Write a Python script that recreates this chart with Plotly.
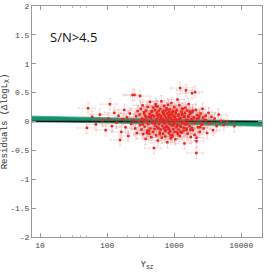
import plotly.graph_objects as go
import numpy as np

# Y_sz values and residuals
ysz = [
    52, 50, 60, 68, 78, 85, 95, 110, 104, 118, 128, 138, 156, 148, 163, 172, 180, 188, 198, 207,
    218, 228, 240, 248, 256, 262, 270, 278, 286, 295, 310,
    305, 312, 318, 325, 330, 338, 345, 350, 358, 362, 370, 375, 382, 390, 396, 402, 410, 415, 422, 430,
    436, 442, 450, 455, 462, 470, 476, 482, 490, 497, 500,
    505, 510, 518, 525, 530, 538, 545, 550, 558, 565, 572, 580, 586, 592, 600, 608, 615, 622, 630, 638,
    645, 652, 660, 668, 675, 682, 690, 698, 705, 712,
    720, 728, 736, 745, 752, 760, 768, 776, 785, 792, 800, 810, 818, 826, 835, 845, 852, 862, 870, 880,
    890, 900, 910, 920, 930, 940, 950, 962, 972, 985,
    995, 1005, 1018, 1030, 1042, 1055, 1068, 1080, 1092, 1105, 1120, 1135, 1150, 1165, 1180, 1195, 1210,
    1228, 1245, 1262, 1280, 1300, 1320, 1340, 1360, 1380, 1400, 1425, 1450, 1475,
    1500, 1510, 1530, 1560, 1590, 1620, 1650, 1690, 1730, 1770, 1810, 1850, 1860, 1900, 1950, 2000, 2050,
    2100, 2140, 2150, 2200, 2260,
    2320, 2400, 2480, 2560, 2650, 2750, 2850, 2950, 3100, 3250, 3400, 3600, 3800, 4000, 4300, 4600, 5000,
    5500, 6200, 7900,
    340, 380, 420, 465, 515, 560, 610, 655, 700, 748, 795, 842, 895, 945, 1000, 1060, 1115, 1175, 1240,
    1310, 1390, 1470, 1550, 1640, 1750, 1880, 2020, 2200, 2450, 2700,
    355, 395, 445, 495, 535, 585, 635, 685, 732, 780, 830, 885, 935, 990, 1050, 1110, 1170, 1235, 1305,
    1370, 1440, 1520, 1610, 1710, 1830, 1980, 2150, 2380, 2600, 3000,
]
resid = [
    0.23, -0.11, 0.08, -0.05, 0.12, 0.02, -0.15, 0.30, 0.05, -0.08, 0.15, -0.02, -0.32, 0.10, -0.18, 0.04,
    0.20, -0.10, 0.07, -0.25, 0.14, -0.04, 0.46, 0.02, 0.46, -0.12, 0.09, -0.20, 0.18, 0.00, 0.44,
    0.12, -0.06, 0.22, -0.14, 0.05, 0.28, -0.22, 0.03, 0.16, -0.09, 0.10, -0.30, 0.19, 0.01, -0.16, 0.25,
    -0.04, 0.08, -0.21, 0.13, 0.34, -0.12, 0.06, -0.27, 0.17, -0.02, 0.11, -0.18, 0.24, 0.00, -0.46,
    0.09, -0.13, 0.20, -0.07, 0.30, -0.24, 0.04, 0.15, -0.10, 0.26, -0.33, 0.07, 0.18, -0.05, 0.12,
    -0.19, 0.02, 0.22, -0.14, 0.09, 0.35, -0.28, 0.05, -0.08, 0.17, -0.21, 0.13, 0.01, -0.12, 0.27,
    -0.03, 0.10, -0.26, 0.19, 0.06, -0.15, 0.23, -0.09, 0.14, -0.36, 0.03, 0.29, -0.11, 0.08, -0.20,
    0.16, -0.04, 0.21, -0.17, 0.11, -0.29, 0.05, 0.32, -0.07, 0.13, -0.23, 0.02, 0.18, -0.13, 0.09,
    -0.02, 0.25, -0.18, 0.07, -0.31, 0.14, 0.01, -0.10, 0.20, -0.06, 0.38, -0.22, 0.10, -0.14, 0.04,
    0.28, -0.25, 0.58, 0.06, -0.09, 0.17, -0.19, 0.12, -0.03, 0.22, -0.16, 0.08, -0.38, 0.15, -0.05,
    0.54, 0.03, -0.12, 0.19, -0.21, 0.09, 0.30, -0.08, 0.13, -0.27, 0.04, 0.49, 0.16, -0.15, 0.07,
    -0.02, 0.51, 0.20, -0.545, -0.34, 0.11, -0.10,
    0.06, -0.18, 0.14, -0.06, 0.22, -0.12, 0.03, 0.10, -0.20, 0.15, -0.03, 0.08, -0.15, 0.05, -0.08,
    0.12, 0.01, -0.06, 0.00, -0.08,
    -0.05, 0.07, -0.16, 0.18, -0.02, 0.11, -0.22, 0.04, 0.15, -0.09, 0.21, -0.13, 0.06, -0.26, 0.09,
    0.17, -0.07, 0.02, -0.18, 0.13, -0.11, 0.24, -0.04, 0.08, -0.14, 0.19, -0.23, 0.05, -0.10, 0.07,
    0.14, -0.20, 0.09, -0.03, 0.27, -0.12, 0.06, 0.18, -0.16, 0.01, 0.11, -0.24, 0.16, -0.06, 0.04,
    -0.19, 0.12, -0.08, 0.22, -0.01, 0.09, -0.15, 0.03, 0.17, -0.11, 0.06, -0.28, 0.10, -0.04, 0.02,
]
xerr_frac_pct = 28   # fractional x error (%)
yerr = 0.10          # residual error (dex)

# best-fit line of residuals vs log Y_sz and its 1-sigma band
fit_intercept = 0.0
fit_pivot = 10 ** 2.6
fit_slope = -0.025
fit_halfwidth = 0.045

xmin_log, xmax_log = 0.88, 4.31

fig = go.Figure()

xb = np.logspace(xmin_log, xmax_log, 50)
yc = fit_intercept + fit_slope * (np.log10(xb) - np.log10(fit_pivot)) + 0.005
fig.add_trace(go.Scatter(
    x=np.concatenate([xb, xb[::-1]]),
    y=np.concatenate([yc + fit_halfwidth, (yc - fit_halfwidth)[::-1]]),
    fill="toself", fillcolor="#16916c", line=dict(color="#2aa886", width=0.8),
    mode="lines", hoverinfo="skip", showlegend=False))

fig.add_trace(go.Scatter(
    x=[10 ** xmin_log, 10 ** xmax_log], y=[0, 0], mode="lines",
    line=dict(color="#111111", width=1.5), showlegend=False, hoverinfo="skip"))

fig.add_trace(go.Scatter(
    x=ysz, y=resid, mode="markers",
    marker=dict(symbol="square", size=2.5, color="#e8261c"),
    error_x=dict(type="percent", value=xerr_frac_pct, color="rgba(225,90,90,0.28)", thickness=0.8, width=1.5),
    error_y=dict(type="constant", value=yerr, color="rgba(225,90,90,0.28)", thickness=0.8, width=1.5),
    showlegend=False))

tickfont = dict(family="Liberation Mono, DejaVu Sans Mono, monospace", size=8, color="#444")
fig.update_layout(
    width=274, height=273,
    margin=dict(l=32, r=12, t=6, b=36),
    paper_bgcolor="white", plot_bgcolor="white",
    xaxis=dict(type="log", range=[xmin_log, xmax_log], automargin=False,
               tickvals=[10, 100, 1000, 10000], ticktext=["10", "100", "1000", "10000"],
               ticks="inside", ticklen=4, tickcolor="#999", mirror="ticks",
               minor=dict(ticks="inside", ticklen=2, tickcolor="#bbb",
                          tickvals=[20, 30, 40, 50, 200, 300, 400, 500, 2000, 3000, 4000, 5000]),
               showline=True, linecolor="#999", linewidth=1,
               showgrid=False, zeroline=False, tickfont=tickfont,
               title=dict(text="Y<sub>sz</sub>", font=dict(family="Liberation Mono, monospace", size=9, color="#333"), standoff=12)),
    yaxis=dict(range=[-2, 2], automargin=False, tickvals=[-2, -1.5, -1, -0.5, 0, 0.5, 1, 1.5, 2],
               ticktext=["-2", "-1.5", "-1", "-0.5", "0", "0.5", "1", "1.5", "2"],
               ticks="inside", ticklen=4, tickcolor="#999", mirror="ticks",
               showline=True, linecolor="#999", linewidth=1,
               showgrid=False, zeroline=False, tickfont=tickfont,
               title=dict(text="Residuals (\u0394logL<sub>X</sub>)",
                          font=dict(family="Liberation Mono, monospace", size=9, color="#333"), standoff=2)),
    annotations=[dict(text="S/N>4.5", xref="paper", yref="paper", x=0.07, y=0.866,
                      xanchor="left", yanchor="middle", showarrow=False,
                      font=dict(family="Open Sans, sans-serif", size=13, color="#111"))],
)

fig.write_html("out.html", config={"displayModeBar": False},
               post_script="document.body.style.margin='0';")
